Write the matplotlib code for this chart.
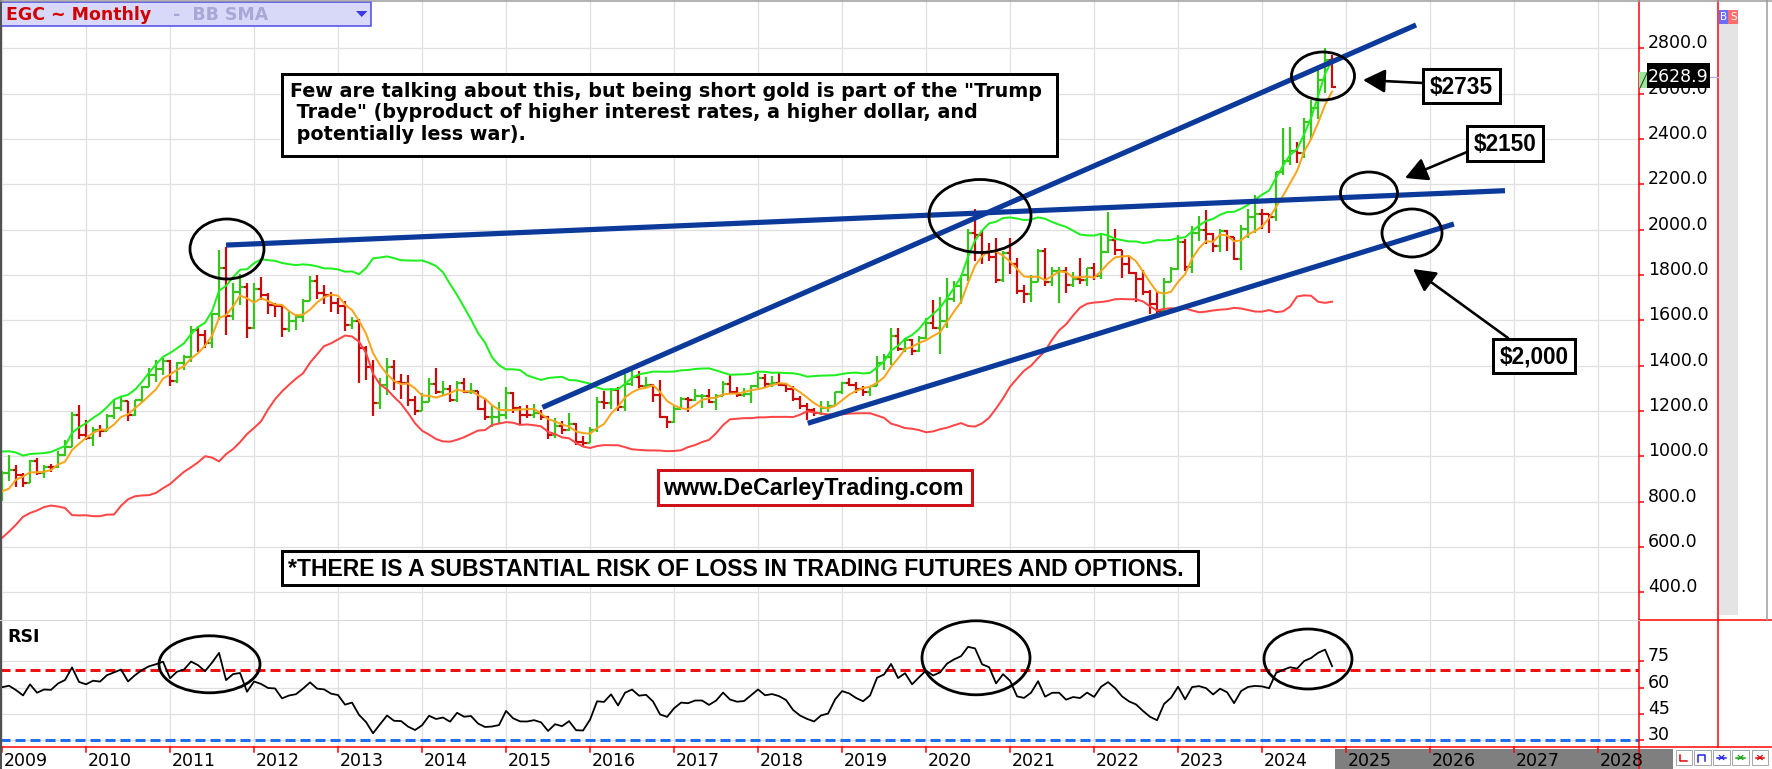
import numpy as np
import pandas as pd
import matplotlib
matplotlib.use("Agg")
import matplotlib.pyplot as plt
import matplotlib.transforms as mtrans
from matplotlib.patches import Rectangle, Ellipse, Polygon

plt.rcParams['lines.scale_dashes'] = False

# ---------------- DATA (monthly gold futures, Jan 2009 .. Nov 2024) ----------------
years = list(range(2009, 2029))

warmup_close = [568, 556, 583, 654, 643, 614, 634, 626, 599, 606, 648, 632,   # 2006
                651, 665, 663, 680, 659, 650, 666, 673, 743, 795, 783, 834,   # 2007
                923, 975, 917, 865, 886, 928, 914, 833, 884, 718, 816, 884]   # 2008

open_ = [884, 928, 942, 916, 884, 979, 927, 955, 953, 1008, 1040, 1182,
         1096, 1081, 1118, 1113, 1180, 1212, 1244, 1181, 1247, 1308, 1357, 1385,
         1421, 1333, 1411, 1439, 1556, 1536, 1502, 1628, 1829, 1620, 1725, 1746,
         1566, 1737, 1711, 1669, 1664, 1561, 1598, 1615, 1687, 1775, 1719, 1712,
         1675, 1663, 1578, 1597, 1476, 1393, 1234, 1313, 1396, 1327, 1323, 1250,
         1202, 1240, 1321, 1284, 1296, 1250, 1322, 1282, 1287, 1210, 1172, 1175,
         1184, 1279, 1213, 1183, 1182, 1190, 1172, 1095, 1132, 1115, 1142, 1064,
         1061, 1118, 1238, 1234, 1291, 1216, 1321, 1350, 1309, 1316, 1272, 1173,
         1152, 1211, 1253, 1249, 1268, 1268, 1242, 1268, 1321, 1283, 1271, 1275,
         1309, 1345, 1318, 1325, 1316, 1299, 1253, 1224, 1206, 1192, 1215, 1222,
         1282, 1325, 1316, 1298, 1285, 1311, 1413, 1437, 1529, 1472, 1514, 1464,
         1523, 1589, 1566, 1596, 1694, 1751, 1800, 1986, 1978, 1895, 1879, 1780,
         1895, 1850, 1728, 1715, 1768, 1905, 1771, 1817, 1818, 1757, 1784, 1776,
         1829, 1796, 1900, 1954, 1911, 1848, 1807, 1782, 1726, 1672, 1640, 1768,
         1826, 1945, 1836, 1986, 1999, 1982, 1929, 1995, 1966, 1870, 2005, 2058,
         2071, 2067, 2054, 2254, 2303, 2348, 2339, 2473, 2536, 2660, 2749]

high = [937, 1007, 963, 925, 982, 991, 961, 968, 1024, 1070, 1195, 1227,
        1162, 1128, 1140, 1185, 1249, 1265, 1246, 1248, 1310, 1388, 1424, 1432,
        1425, 1416, 1447, 1576, 1577, 1556, 1632, 1911, 1923, 1764, 1804, 1764,
        1764, 1792, 1720, 1678, 1666, 1640, 1628, 1693, 1796, 1798, 1755, 1723,
        1697, 1684, 1616, 1606, 1488, 1424, 1347, 1434, 1425, 1362, 1361, 1268,
        1280, 1345, 1392, 1332, 1315, 1332, 1345, 1324, 1290, 1256, 1220, 1238,
        1308, 1283, 1220, 1225, 1232, 1205, 1180, 1171, 1158, 1192, 1145, 1089,
        1129, 1263, 1287, 1303, 1306, 1362, 1377, 1375, 1352, 1318, 1338, 1180,
        1220, 1264, 1262, 1297, 1276, 1298, 1273, 1331, 1362, 1306, 1300, 1313,
        1366, 1362, 1356, 1369, 1318, 1309, 1266, 1237, 1214, 1244, 1245, 1286,
        1326, 1347, 1326, 1310, 1306, 1442, 1453, 1566, 1566, 1524, 1519, 1531,
        1612, 1691, 1704, 1788, 1775, 1800, 2005, 2089, 2000, 1940, 1965, 1908,
        1962, 1876, 1755, 1798, 1916, 1919, 1836, 1834, 1837, 1814, 1877, 1830,
        1853, 1976, 2079, 2003, 1912, 1880, 1814, 1824, 1735, 1730, 1786, 1836,
        1976, 1959, 2014, 2062, 2085, 1985, 2001, 2000, 1967, 2019, 2089, 2152,
        2089, 2070, 2256, 2448, 2454, 2388, 2493, 2570, 2708, 2801, 2770]

low = [802, 890, 866, 865, 883, 920, 905, 931, 950, 1003, 1040, 1075,
       1073, 1045, 1087, 1113, 1165, 1199, 1157, 1176, 1242, 1306, 1330, 1361,
       1309, 1323, 1381, 1418, 1462, 1478, 1478, 1600, 1535, 1600, 1667, 1523,
       1562, 1690, 1627, 1613, 1527, 1548, 1556, 1591, 1687, 1692, 1672, 1636,
       1626, 1555, 1563, 1322, 1339, 1180, 1207, 1272, 1292, 1251, 1221, 1182,
       1200, 1238, 1277, 1268, 1240, 1240, 1281, 1273, 1205, 1160, 1131, 1142,
       1167, 1191, 1142, 1170, 1169, 1162, 1077, 1081, 1097, 1112, 1052, 1046,
       1060, 1108, 1208, 1207, 1199, 1200, 1311, 1302, 1303, 1241, 1171, 1124,
       1146, 1207, 1195, 1243, 1214, 1236, 1205, 1265, 1280, 1261, 1264, 1237,
       1303, 1307, 1304, 1312, 1282, 1245, 1211, 1160, 1180, 1182, 1196, 1222,
       1276, 1310, 1281, 1266, 1267, 1311, 1381, 1401, 1465, 1459, 1446, 1459,
       1517, 1563, 1451, 1568, 1680, 1671, 1774, 1863, 1848, 1860, 1764, 1767,
       1805, 1717, 1677, 1680, 1767, 1750, 1752, 1677, 1722, 1746, 1762, 1753,
       1780, 1782, 1895, 1889, 1787, 1805, 1681, 1711, 1626, 1618, 1622, 1767,
       1823, 1817, 1810, 1949, 1937, 1900, 1903, 1904, 1865, 1823, 1965, 1987,
       2002, 1984, 2039, 2241, 2285, 2293, 2318, 2400, 2486, 2604, 2626]

close = [928, 942, 916, 884, 979, 927, 955, 953, 1008, 1040, 1182, 1096,
         1081, 1118, 1113, 1180, 1212, 1244, 1181, 1247, 1308, 1357, 1385, 1421,
         1333, 1411, 1439, 1556, 1536, 1502, 1628, 1829, 1620, 1725, 1746, 1566,
         1737, 1711, 1669, 1664, 1561, 1598, 1615, 1687, 1775, 1719, 1712, 1675,
         1663, 1578, 1597, 1476, 1393, 1234, 1313, 1396, 1327, 1323, 1250, 1202,
         1240, 1321, 1284, 1296, 1250, 1322, 1282, 1287, 1210, 1172, 1175, 1184,
         1279, 1213, 1183, 1182, 1190, 1172, 1095, 1132, 1115, 1142, 1064, 1061,
         1118, 1238, 1234, 1291, 1216, 1321, 1350, 1309, 1316, 1272, 1173, 1152,
         1211, 1253, 1249, 1268, 1268, 1242, 1268, 1321, 1283, 1271, 1275, 1309,
         1345, 1318, 1325, 1316, 1299, 1253, 1224, 1206, 1192, 1215, 1222, 1282,
         1325, 1316, 1298, 1285, 1311, 1413, 1437, 1529, 1472, 1514, 1464, 1523,
         1589, 1566, 1596, 1694, 1751, 1800, 1986, 1978, 1895, 1879, 1780, 1895,
         1850, 1728, 1715, 1768, 1905, 1771, 1817, 1818, 1757, 1784, 1776, 1829,
         1796, 1900, 1954, 1911, 1848, 1807, 1782, 1726, 1672, 1640, 1768, 1826,
         1945, 1836, 1986, 1999, 1982, 1929, 1995, 1966, 1870, 2005, 2058, 2071,
         2067, 2054, 2254, 2303, 2348, 2339, 2473, 2536, 2660, 2749, 2629]

price_ticks = [400, 600, 800, 1000, 1200, 1400, 1600, 1800, 2000, 2200, 2400, 2600, 2800]
rsi_ticks = [30, 45, 60, 75]
rsi_levels = [70, 30]
last_price = "2628.9"

# hand-drawn trend lines: (month index since Jan 2009, price) endpoints
trend_start_m = [32.0, 77.2, 115.1]
trend_start_p = [1932, 1216, 1146]
trend_end_m = [214.7, 202.0, 207.4]
trend_end_p = [2172, 2903, 2025]

# ---------------- INDICATORS ----------------
n_warm = len(warmup_close)
allc = pd.Series(warmup_close + close, dtype=float)
sma20 = allc.rolling(20).mean()
sd20 = allc.rolling(20).std(ddof=0)
bb_upper = (sma20 + 2 * sd20).values[n_warm:]
bb_lower = (sma20 - 2 * sd20).values[n_warm:]
sma5 = allc.rolling(5).mean().values[n_warm:]
delta = allc.diff().fillna(0)
gain = delta.clip(lower=0)
loss = (-delta).clip(lower=0)
ag = gain.ewm(alpha=1 / 14, adjust=False).mean()
al = loss.ewm(alpha=1 / 14, adjust=False).mean()
rsi = (100 - 100 / (1 + ag / al)).values[n_warm:]

# ---------------- FIGURE ----------------
W, H = 1772, 769
fig = plt.figure(figsize=(W / 100, H / 100), dpi=100)
fig.patch.set_facecolor('white')


def pt(p):
    return p * 0.72


AXR = 1638.7
ax = fig.add_axes([0, 1 - 620 / H, AXR / W, 620 / H])
axr = fig.add_axes([0, 1 - 747 / H, AXR / W, 127 / H])

GREEN_BAR = '#38C41C'
RED_BAR = '#CC0A0A'
GRID = '#E0E0E0'
TREND = '#0B3A9B'

o = np.array(open_, float)
h = np.array(high, float)
l = np.array(low, float)
c = np.array(close, float)
m = np.arange(len(c))
xmin, xmax = -0.29, 233.8
year_m = [12 * (y - 2009) for y in years]

for a in (ax, axr):
    a.set_xlim(xmin, xmax)
    for s in ('left', 'top', 'bottom'):
        a.spines[s].set_visible(False)
    a.spines['right'].set_color('red')
    a.spines['right'].set_linewidth(pt(1.5))
    for ym in year_m:
        a.axvline(ym, color=GRID, lw=pt(1.3), zorder=0)
    a.set_xticks([])
    a.yaxis.tick_right()
    a.tick_params(axis='y', which='both', right=True, left=False, labelright=True, labelleft=False,
                  color='red', labelcolor='black', direction='out', length=pt(4.6), width=pt(1.5),
                  pad=pt(4.5), labelsize=12.5)

# --- main price panel ---
ax.set_ylim(278.2, 3013.1)
ax.set_yticks(price_ticks)
ax.set_yticklabels([f"{v:.1f}" for v in price_ticks])
for v in price_ticks:
    ax.axhline(v, color=GRID, lw=pt(1.3), zorder=0)

cols = np.where(c >= o, GREEN_BAR, RED_BAR)
ax.vlines(m, l, h, colors=cols, lw=pt(2.2), zorder=2)
ax.hlines(o, m - 0.5, m, colors=cols, lw=pt(2.2), zorder=2)
ax.hlines(c, m, m + 0.5, colors=cols, lw=pt(2.2), zorder=2)

ax.plot(m, bb_upper, color='#1EF01E', lw=pt(2.0), zorder=3)
ax.plot(m, bb_lower, color='#FF4545', lw=pt(2.0), zorder=3)
ax.plot(m, sma5, color='#F7A51C', lw=pt(2.0), zorder=3)

for x0, y0, x1, y1 in zip(trend_start_m, trend_start_p, trend_end_m, trend_end_p):
    ax.plot([x0, x1], [y0, y1], color=TREND, lw=pt(5.2), solid_capstyle='butt', zorder=5)

# --- RSI panel ---
axr.set_ylim(26.17, 98.5)
axr.set_yticks(rsi_ticks)
axr.set_yticklabels([str(v) for v in rsi_ticks])
for v in rsi_ticks:
    axr.axhline(v, color=GRID, lw=pt(1.3), zorder=0)
axr.spines['bottom'].set_visible(True)
axr.spines['bottom'].set_color('red')
axr.spines['bottom'].set_linewidth(pt(1.5))
axr.axhline(rsi_levels[0], color='#EE1111', lw=pt(3), dashes=(pt(10), pt(5)), zorder=2)
axr.axhline(rsi_levels[1], color='#1F6FEF', lw=pt(3), dashes=(pt(10), pt(5)), zorder=2)
axr.plot(m, rsi, color='black', lw=pt(1.8), zorder=3)

for a in (ax, axr):
    for lbl in a.get_yticklabels():
        lbl.set_va('baseline')

# ---------------- OVERLAY (pixel coordinates, y down) ----------------
ov = fig.add_axes([0, 0, 1, 1], zorder=10)
ov.set_xlim(0, W)
ov.set_ylim(H, 0)
ov.axis('off')
ov.patch.set_alpha(0)

# date strip
ov.add_patch(Rectangle((1335, 748.5), 1673 - 1335, 20.5, fc='#7F7F7F', ec='none', zorder=1))
xdate = mtrans.blended_transform_factory(axr.transData, ov.transData)
for ym, y in zip(year_m, years):
    ov.plot([ym, ym], [747, 751.5], color='red', lw=pt(1.5), transform=xdate, zorder=2)
    ov.text(ym + 0.25, 766.3, str(y), transform=xdate, ha='left', va='baseline',
            fontsize=12.5, color='black', zorder=3, family='DejaVu Sans')

# frame lines
ov.plot([AXR, AXR], [747, H], color='red', lw=pt(1.5))
ov.plot([1718, 1718], [0, 747], color='red', lw=pt(1.5))
ov.plot([AXR, W], [620, 620], color='red', lw=pt(1.5))
ov.plot([AXR, W], [747, 747], color='red', lw=pt(1.5))
ov.plot([1.0, 1.0], [0, H], color='#505050', lw=pt(2))
ov.plot([0, W], [1.0, 1.0], color='#9A9A9A', lw=pt(1.5))
ov.plot([1767, 1767], [0, 620], color='#9A9A9A', lw=pt(1.5))
ov.plot([0, AXR], [620, 620], color='#D8D8D8', lw=pt(1))

# scroll bar + B/S
ov.add_patch(Rectangle((1719, 24), 19, 591, fc='#E4E4E4', ec='none'))
ov.add_patch(Rectangle((1719, 10), 9.5, 14, fc='#6C6CFF', ec='none'))
ov.add_patch(Rectangle((1728.5, 10), 9.5, 14, fc='#FF6C6C', ec='none'))
ov.text(1723.7, 17, 'B', color='white', fontsize=7.5, ha='center', va='center')
ov.text(1733.2, 17, 'S', color='white', fontsize=7.5, ha='center', va='center')

# last price marker
ov.add_patch(Rectangle((1639.5, 72), 8.5, 16, fc='#98E898', ec='none'))
ov.plot([1640, 1647], [88, 73], color='#333333', lw=pt(1))
ov.add_patch(Rectangle((1647, 63), 63, 24.5, fc='black', ec='none'))
ov.text(1678.5, 82.5, last_price, color='white', fontsize=12.5, ha='center', va='baseline')
ov.plot([1710, 1718], [76.7, 76.7], color='#B8B8E8', lw=pt(1.2))

# bottom-right buttons
btn_x = [1675.7, 1694.3, 1713.3, 1732.3, 1751.7]
btn_c = ['#E00000', '#2020E0', '#2020E0', '#10A010', '#E00000']
for bx, bc in zip(btn_x, btn_c):
    ov.add_patch(Rectangle((bx, 749.5), 16.5, 15.5, fc='white', ec='#A8A8A8', lw=pt(1)))
ov.plot([1680.5, 1680.5, 1687.5], [754.5, 760.5, 760.5], color=btn_c[0], lw=pt(1.5))
ov.plot([1698.5, 1698.5, 1705.5, 1705.5], [761.5, 754.5, 754.5, 760.5], color=btn_c[1], lw=pt(1.5))
for k in (2, 3, 4):
    bx = btn_x[k]
    ov.plot([bx + 4, bx + 12.5], [757.5, 757.5], color=btn_c[k], lw=pt(1.5))
    ov.plot([bx + 6, bx + 10.5], [755.5, 759.5], color=btn_c[k], lw=pt(1.2))
    ov.plot([bx + 6, bx + 10.5], [759.5, 755.5], color=btn_c[k], lw=pt(1.2))

# title box
ov.add_patch(Rectangle((1.5, 1.5), 369.5, 24, fc='#D8D8F8', ec='#4848E8', lw=pt(1.5)))
ov.text(6, 19.5, 'EGC ~ Monthly', color='#D00000', fontsize=12.5, fontweight='bold',
        va='baseline', ha='left', family='DejaVu Sans')
ov.text(173, 19.5, '-  BB SMA', color='#A8A8D6', fontsize=12.5, fontweight='bold',
        va='baseline', ha='left', family='DejaVu Sans')
ov.add_patch(Polygon([(356, 11), (367.5, 11), (361.7, 17)], closed=True, fc='#3A3AE0', ec='none'))

# RSI label
ov.text(7, 641.7, 'RSI', fontsize=12.5, fontweight='bold', va='baseline', ha='left',
        family='DejaVu Sans')

AR = 'Liberation Sans'
# commentary box
ov.add_patch(Rectangle((282, 74), 775, 82, fc='white', ec='black', lw=pt(3), zorder=4))
comment = ['Few are talking about this, but being short gold is part of the "Trump',
           ' Trade" (byproduct of higher interest rates, a higher dollar, and',
           ' potentially less war).']
for i, line in enumerate(comment):
    ov.text(290, 96.7 + 21.7 * i, line, fontsize=13.8, fontweight='bold', family='DejaVu Sans',
            va='baseline', ha='left', zorder=5)

# website
ov.add_patch(Rectangle((658.5, 470), 313.5, 35, fc='white', ec='#D0101A', lw=pt(3), zorder=4))
ov.text(663, 495, 'www.DeCarleyTrading.com', fontsize=16.8, fontweight='bold', family=AR,
        va='baseline', ha='left', zorder=5)

# disclaimer
ov.add_patch(Rectangle((282, 551), 916, 34, fc='white', ec='black', lw=pt(3), zorder=4))
ov.text(288, 576, '*THERE IS A SUBSTANTIAL RISK OF LOSS IN TRADING FUTURES AND OPTIONS.',
        fontsize=16.6, fontweight='bold', family=AR, va='baseline', ha='left', zorder=5)

# price callouts
callouts = [('$2735', (1423, 69, 77, 34), (1423, 83), (1363, 80)),
            ('$2150', (1467, 126, 76, 35), (1467, 152), (1405, 178)),
            ('$2,000', (1493, 339, 82, 34), (1508, 338), (1413, 269))]
for txt, (bx, by, bw, bh), tail, head in callouts:
    ov.add_patch(Rectangle((bx, by), bw, bh, fc='white', ec='black', lw=pt(3), zorder=4))
    ov.text(bx + bw / 2, by + bh / 2 + 1, txt, fontsize=16.3, fontweight='bold', family=AR,
            ha='center', va='center', zorder=5)
    ov.annotate('', xy=head, xytext=tail, zorder=6,
                arrowprops=dict(arrowstyle='-|>,head_length=0.75,head_width=0.4', color='black',
                                lw=pt(2.6), shrinkA=0, shrinkB=0, mutation_scale=18))

# ellipses
ellipses = [(1323, 76, 63, 48), (1369, 193, 57, 42), (1412, 233, 60, 48),
            (980, 216, 102, 73), (227, 249, 74, 60),
            (209.5, 664.3, 101, 57), (976, 657.8, 108, 74), (1308, 659, 88, 60)]
for ex, ey, ew, eh in ellipses:
    ov.add_patch(Ellipse((ex, ey), ew, eh, fill=False, ec='black', lw=pt(2.8), zorder=6))

fig.savefig('out.png', dpi=100)
